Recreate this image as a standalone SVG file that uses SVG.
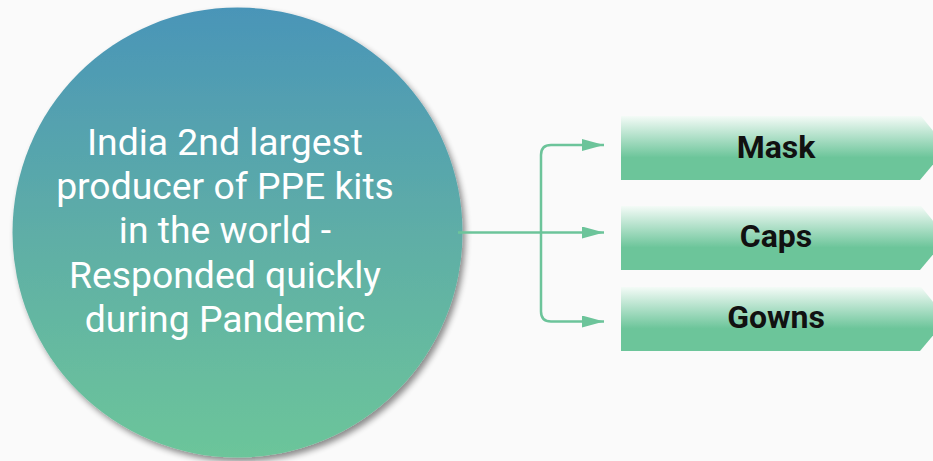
<svg xmlns="http://www.w3.org/2000/svg" width="933" height="461" viewBox="0 0 933 461">
<style>
.conn{fill:none;stroke:#6cc49a;stroke-width:2.5}
.lbl{font-family:Roboto,"Liberation Sans",sans-serif;font-weight:bold;font-size:32px;fill:#111;text-anchor:middle}
.main{font-family:Roboto,"Liberation Sans",sans-serif;font-size:37.3px;fill:#ffffff;text-anchor:middle}
.box{fill:url(#boxg)}
</style>
<defs>
<linearGradient id="circg" x1="0" y1="0" x2="0" y2="1">
<stop offset="0" stop-color="#4a95b8"/>
<stop offset="0.55" stop-color="#60b0a5"/>
<stop offset="1" stop-color="#6cc59a"/>
</linearGradient>
<linearGradient id="boxg" x1="0" y1="0" x2="0" y2="1">
<stop offset="0" stop-color="#f4fbf7"/>
<stop offset="0.65" stop-color="#6cc59a"/>
<stop offset="1" stop-color="#6cc59a"/>
</linearGradient>
<filter id="sh" x="-10%" y="-10%" width="130%" height="130%">
<feGaussianBlur in="SourceAlpha" stdDeviation="3"/>
<feOffset dx="3" dy="4" result="b"/>
<feComponentTransfer><feFuncA type="linear" slope="0.45"/></feComponentTransfer>
<feMerge><feMergeNode/><feMergeNode in="SourceGraphic"/></feMerge>
</filter>
<marker id="arr" markerWidth="22" markerHeight="12" refX="22" refY="6" orient="auto" markerUnits="userSpaceOnUse">
<path d="M0,0 L22,6 L0,12 Z" fill="#6cc49a"/>
</marker>
</defs>
<rect width="933" height="461" fill="#fafafa"/>
<g id="center-node">
<circle cx="237.5" cy="232.5" r="225" fill="url(#circg)" filter="url(#sh)"/>
<text class="main" x="225" y="155">India 2nd largest</text>
<text class="main" x="225" y="199">producer of PPE kits</text>
<text class="main" x="225" y="243">in the world -</text>
<text class="main" x="225" y="288">Responded quickly</text>
<text class="main" x="225" y="332">during Pandemic</text>
</g>
<g id="connectors">
<path class="conn" d="M458,232.5 H604" marker-end="url(#arr)"/>
<path class="conn" d="M541,232.5 V155 Q541,145 551,145 H604" marker-end="url(#arr)"/>
<path class="conn" d="M541,232.5 V311.5 Q541,321.5 551,321.5 H604" marker-end="url(#arr)"/>
</g>
<g id="mask">
<path class="box" d="M621,116 H921 L947,148 L920,180 H621 Z"/>
<text class="lbl" x="776" y="158">Mask</text>
</g>
<g id="caps">
<path class="box" d="M621,206 H921 L947,238 L920,270 H621 Z"/>
<text class="lbl" x="776" y="247">Caps</text>
</g>
<g id="gowns">
<path class="box" d="M621,287 H921 L947,319 L920,351 H621 Z"/>
<text class="lbl" x="776" y="328">Gowns</text>
</g>
</svg>
